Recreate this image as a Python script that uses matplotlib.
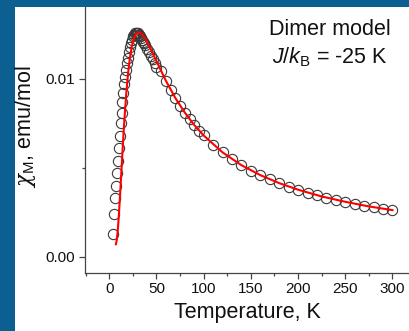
import numpy as np
import matplotlib
matplotlib.use("Agg")
import matplotlib.pyplot as plt
from matplotlib.patches import Rectangle
from matplotlib.ticker import MultipleLocator, FormatStrFormatter

plt.rcParams['font.family'] = ['Liberation Sans', 'DejaVu Sans']
plt.rcParams['mathtext.fontset'] = 'custom'
plt.rcParams['mathtext.rm'] = 'Liberation Sans'
plt.rcParams['mathtext.it'] = 'Liberation Sans:italic'
plt.rcParams['mathtext.cal'] = 'DejaVu Serif:italic'

# measured points (open circles)
temp_data = [4, 5, 6, 7, 8, 9, 10, 11, 12, 13, 14, 15, 16, 17, 18, 19, 20,
             21, 22, 23, 24, 25, 26, 27, 28, 29, 30, 31, 32, 33, 34, 35, 36,
             37, 38, 40, 42, 44, 46, 48, 50, 55, 60, 65, 70, 75, 80, 85, 90,
             95, 100, 110, 120, 130, 140, 150, 160, 170, 180, 190, 200, 210,
             220, 230, 240, 250, 260, 270, 280, 290, 300]
chi_data = [0.0013, 0.0024, 0.0033, 0.0040, 0.0047, 0.0054, 0.0061, 0.0068,
            0.0075, 0.0081, 0.0087, 0.0092, 0.0097, 0.0101, 0.0105, 0.0109,
            0.0112, 0.0115, 0.0118, 0.0120, 0.0122, 0.0124, 0.0125, 0.0126,
            0.0126, 0.0126, 0.0126, 0.0125, 0.0125, 0.0124, 0.0123, 0.0122,
            0.0121, 0.0120, 0.0119, 0.0117, 0.0115, 0.0113, 0.0111, 0.0109,
            0.0107, 0.01043, 0.0099, 0.0094, 0.00893, 0.0085, 0.00811,
            0.00775, 0.00741, 0.0071, 0.00682, 0.0063, 0.00587, 0.00549,
            0.00515, 0.00485, 0.00459, 0.00435, 0.00414, 0.00394, 0.00377,
            0.00361, 0.00346, 0.00333, 0.0032, 0.00309, 0.00298, 0.00288,
            0.00279, 0.0027, 0.00262]

# dimer model fit (red line)
temp_fit = [7, 8, 9, 10, 11, 12, 13, 14, 15, 16, 18, 20, 22, 24, 26, 28, 30,
            32, 34, 36, 38, 40, 45, 50, 60, 70, 80, 90, 100, 120, 140, 160,
            180, 200, 225, 250, 275, 300]
chi_fit = [0.0007, 0.00095, 0.00147, 0.0022, 0.00305, 0.00398, 0.00494,
           0.00589, 0.00681, 0.00767, 0.00917, 0.01036, 0.01124, 0.01186,
           0.01226, 0.0125, 0.01261, 0.01262, 0.01255, 0.01243, 0.01227,
           0.01209, 0.01156, 0.0110, 0.0099, 0.00893, 0.00811, 0.00741,
           0.00682, 0.00587, 0.00515, 0.00459, 0.00414, 0.00377, 0.00339,
           0.00309, 0.00283, 0.00262]

W, H = 409, 331
fig = plt.figure(figsize=(W / 100, H / 100), dpi=100)
fig.patch.set_facecolor('#0c5f91')
fig.patches.append(Rectangle((15 / W, 0), 1, (H - 7) / H, transform=fig.transFigure,
                             facecolor='white', edgecolor='none', zorder=-5))

ax = fig.add_axes([85 / W, (H - 272.7) / H, (W - 85) / W, (272.7 - 7) / H])
ax.set_facecolor('none')
ax.set_zorder(2)

ax.plot(temp_data, chi_data, 'o', ms=7.4, mfc='none', mec='#3a3a3a', mew=0.8, zorder=2)
ax.plot(temp_fit, chi_fit, '-', color='#ff0000', lw=1.5, zorder=3)

ax.set_xlim(-25.7, 317.5)
ax.set_ylim(-0.0009, 0.01405)

ax.xaxis.set_major_locator(MultipleLocator(50))
ax.xaxis.set_minor_locator(MultipleLocator(25))
ax.yaxis.set_major_locator(MultipleLocator(0.01))
ax.yaxis.set_minor_locator(MultipleLocator(0.005))
ax.yaxis.set_major_formatter(FormatStrFormatter('%.2f'))

for s in ['top', 'right']:
    ax.spines[s].set_visible(False)
for s in ['left', 'bottom']:
    ax.spines[s].set_color('#444444')
    ax.spines[s].set_linewidth(0.9)

ax.tick_params(which='major', direction='out', length=4, width=0.9,
               color='#444444', labelsize=11, labelcolor='#111111', pad=3)
ax.tick_params(which='minor', direction='out', length=2.5, width=0.9, color='#444444')

ax.set_xlabel('Temperature, K', fontsize=15.5, color='#111111')
ax.set_ylabel(r'$\mathcal{\chi}_\mathrm{M}$, emu/mol', fontsize=15.5, color='#111111')
ax.yaxis.set_label_coords(-0.145, 0.55)

fig.text(330 / W, 1 - 35 / H, 'Dimer model', ha='center', va='baseline',
         fontsize=15.5, color='#111111', zorder=3)
fig.text(330 / W, 1 - 63 / H, r'$J/k_\mathrm{B}$ = -25 K', ha='center', va='baseline',
         fontsize=15.5, color='#111111', zorder=3)

fig.savefig('out.png', dpi=100, facecolor=fig.get_facecolor())
